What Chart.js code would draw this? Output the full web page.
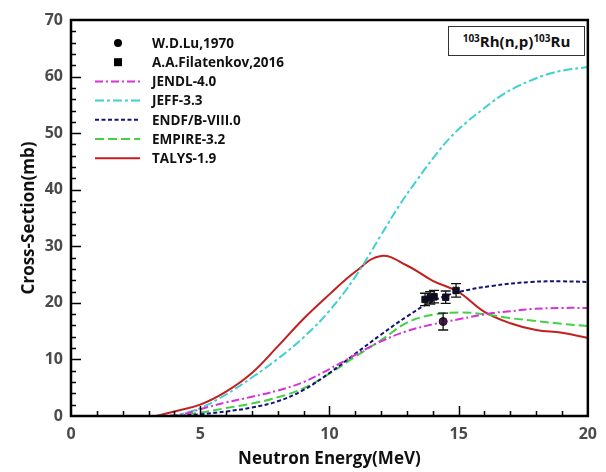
<!DOCTYPE html>
<html>
<head>
<meta charset="utf-8">
<script src="https://cdn.jsdelivr.net/npm/chart.js@4/dist/chart.umd.min.js"></script>
<style>
  html, body { margin: 0; padding: 0; background: #fff; }
  #wrap { position: relative; width: 606px; height: 472px; }
  #reaction {
    position: absolute; left: 448px; top: 26px; width: 137px; height: 30px;
    border: 1px solid #333; box-sizing: border-box; background: #fff;
    font: bold 15px 'Open Sans', sans-serif; color: #111;
    text-align: center; line-height: 29px; white-space: nowrap;
  }
  #reaction sup { font-size: 10px; vertical-align: 5px; line-height: 0; }
</style>
</head>
<body>
<div id="wrap">
  <canvas id="xs-chart" width="606" height="472"></canvas>
  <div id="reaction"><sup>103</sup>Rh(n,p)<sup>103</sup>Ru</div>
</div>
<script>
// ===================================
// DATA
// ===================================
const luE = [14.4];
const luXs = [16.7];
const luErr = [1.5];

const filE = [13.7, 13.9, 14.05, 14.5, 14.9];
const filXs = [20.6, 20.9, 21.1, 21.0, 22.2];
const filErr = [1.1, 1.1, 1.1, 1.1, 1.2];

const jendlE = [3.8, 4.5, 5, 6, 7, 8, 9, 10, 11, 12, 13, 14, 15, 16.3, 17, 17.8, 19, 20];
const jendlXs = [0, 0.5, 1.2, 2.4, 3.4, 4.5, 6.0, 8.3, 10.8, 13.2, 15.0, 16.2, 17.1, 18.2, 18.5, 18.9, 19.1, 19.1];

const jeffE = [3.8, 4.3, 5, 6, 7, 8, 9, 10, 11, 12, 12.73, 13.37, 14, 14.65, 15.3, 15.93, 16.57, 17.2, 17.84, 18.5, 19.1, 20];
const jeffXs = [0, 0.35, 1.4, 3.8, 6.8, 10.1, 13.9, 18.6, 24.6, 32.0, 37.4, 41.6, 45.5, 49.1, 51.9, 54.2, 56.4, 58.1, 59.4, 60.5, 61.1, 61.7];

const endfE = [4, 5, 6, 7, 8, 9, 10, 11, 12, 13, 14, 15, 16.3, 17.8, 19, 20];
const endfXs = [0, 0.3, 0.8, 1.5, 2.6, 4.6, 7.6, 11.0, 14.4, 17.6, 20.3, 21.9, 23.0, 23.7, 23.8, 23.7];

const empireE = [4, 5, 6, 7, 8, 9, 10, 11, 12, 13, 14, 15, 16, 17, 18, 19, 20];
const empireXs = [0, 0.6, 1.4, 2.2, 3.3, 4.9, 7.5, 10.5, 13.4, 16.5, 17.9, 18.3, 18.0, 17.3, 16.8, 16.3, 15.9];

const talysE = [3.3, 4, 5, 6, 7, 8, 9, 10, 11, 12, 13, 14, 15, 16, 17, 18, 19, 20];
const talysXs = [0, 0.8, 2.0, 4.3, 7.6, 12.3, 17.2, 21.5, 25.5, 28.3, 26.6, 23.9, 21.9, 18.4, 16.4, 15.2, 14.7, 13.8];

const xTicks = [0, 5, 10, 15, 20];
const yTicks = [0, 10, 20, 30, 40, 50, 60, 70];

const toPoints = (xs, ys) => xs.map((x, i) => ({ x: x, y: ys[i] }));

// ===================================
// PLUGINS
// ===================================
const frameTicks = {
    id: 'frameTicks',
    afterDraw(chart) {
        const ctx = chart.ctx;
        const a = chart.chartArea;
        const sx = chart.scales.x;
        const sy = chart.scales.y;
        ctx.save();
        ctx.strokeStyle = '#000';
        ctx.lineWidth = 1.5;
        // minor / major ticks pointing inward
        for (let v = sx.min + 1; v < sx.max; v += 1) {
            const px = Math.round(sx.getPixelForValue(v)) + 0.5;
            const len = v % 5 === 0 ? 10 : 5;
            ctx.beginPath();
            ctx.moveTo(px, a.bottom);
            ctx.lineTo(px, a.bottom - len);
            ctx.stroke();
        }
        for (let v = sy.min + 2; v < sy.max; v += 2) {
            const py = Math.round(sy.getPixelForValue(v)) + 0.5;
            const len = v % 10 === 0 ? 10 : 5;
            ctx.beginPath();
            ctx.moveTo(a.left, py);
            ctx.lineTo(a.left + len, py);
            ctx.stroke();
        }
        ctx.lineWidth = 2.5;
        ctx.strokeRect(a.left, a.top, a.right - a.left, a.bottom - a.top);
        ctx.restore();
    }
};

const errorBars = {
    id: 'errorBars',
    afterDatasetsDraw(chart) {
        const ctx = chart.ctx;
        const sx = chart.scales.x;
        const sy = chart.scales.y;
        ctx.save();
        ctx.strokeStyle = '#111';
        ctx.lineWidth = 1.3;
        chart.data.datasets.forEach(ds => {
            if (!ds.errors) return;
            ds.data.forEach((p, i) => {
                const px = sx.getPixelForValue(p.x);
                const top = sy.getPixelForValue(p.y + ds.errors[i]);
                const bot = sy.getPixelForValue(p.y - ds.errors[i]);
                ctx.beginPath();
                ctx.moveTo(px, top); ctx.lineTo(px, bot);
                ctx.moveTo(px - 5, top); ctx.lineTo(px + 5, top);
                ctx.moveTo(px - 5, bot); ctx.lineTo(px + 5, bot);
                ctx.stroke();
            });
        });
        ctx.restore();
    }
};

const insideLegend = {
    id: 'insideLegend',
    afterDraw(chart) {
        const ctx = chart.ctx;
        ctx.save();
        ctx.font = "bold 13.5px 'Open Sans', sans-serif";
        ctx.textBaseline = 'middle';
        ctx.fillStyle = '#111';
        chart.data.datasets.forEach((ds, i) => {
            const y = 43 + i * 19.2;
            if (ds.showLine) {
                ctx.strokeStyle = ds.borderColor;
                ctx.lineWidth = ds.borderWidth;
                ctx.setLineDash(ds.borderDash || []);
                ctx.beginPath();
                ctx.moveTo(95, y);
                ctx.lineTo(140, y);
                ctx.stroke();
                ctx.setLineDash([]);
            } else {
                ctx.fillStyle = '#000';
                if (ds.pointStyle === 'rect') {
                    ctx.fillRect(114, y - 4, 8, 8);
                } else {
                    ctx.beginPath();
                    ctx.arc(118, y, 4, 0, Math.PI * 2);
                    ctx.fill();
                }
                ctx.fillStyle = '#111';
            }
            ctx.fillText(ds.label, 152, y + 1);
        });
        ctx.restore();
    }
};

// ===================================
// CHART
// ===================================
const lineSet = (label, xs, ys, color, dash) => ({
    label: label,
    data: toPoints(xs, ys),
    showLine: true,
    borderColor: color,
    borderWidth: 2,
    borderDash: dash,
    pointRadius: 0,
    tension: 0.4,
    fill: false
});

const tickFont = { family: "'Open Sans', sans-serif", size: 16, weight: 'bold' };
const titleFont = { family: "'Open Sans', sans-serif", size: 17, weight: 'bold' };

new Chart(document.getElementById('xs-chart'), {
    type: 'scatter',
    data: {
        datasets: [
            {
                label: 'W.D.Lu,1970',
                data: toPoints(luE, luXs),
                errors: luErr,
                showLine: false,
                pointStyle: 'circle',
                pointRadius: 4,
                backgroundColor: '#4a1a55',
                borderColor: '#111',
                borderWidth: 1
            },
            {
                label: 'A.A.Filatenkov,2016',
                data: toPoints(filE, filXs),
                errors: filErr,
                showLine: false,
                pointStyle: 'rect',
                pointRadius: 4.5,
                backgroundColor: '#0a0a30',
                borderColor: '#111',
                borderWidth: 1
            },
            lineSet('JENDL-4.0', jendlE, jendlXs, '#d633d6', [8, 3, 2, 3]),
            lineSet('JEFF-3.3', jeffE, jeffXs, '#3fd0d0', [9, 3, 3, 3]),
            lineSet('ENDF/B-VIII.0', endfE, endfXs, '#12127a', [4, 2.5]),
            lineSet('EMPIRE-3.2', empireE, empireXs, '#44d044', [9, 4]),
            lineSet('TALYS-1.9', talysE, talysXs, '#c41e1e', [])
        ]
    },
    options: {
        responsive: false,
        animation: false,
        layout: { padding: { top: 20, right: 14, left: 0, bottom: 0 } },
        plugins: {
            legend: { display: false },
            tooltip: { enabled: false }
        },
        scales: {
            x: {
                type: 'linear',
                min: 0,
                max: 20,
                afterFit: s => { s.height = 56; },
                afterBuildTicks: s => { s.ticks = xTicks.map(v => ({ value: v })); },
                grid: { display: false, drawTicks: false },
                border: { display: false },
                ticks: { color: '#4a4a4a', font: tickFont, padding: 9, maxRotation: 0 },
                title: {
                    display: true,
                    text: 'Neutron Energy(MeV)',
                    color: '#111',
                    font: titleFont,
                    padding: { top: 0, bottom: 3 }
                }
            },
            y: {
                type: 'linear',
                min: 0,
                max: 70,
                afterFit: s => { s.width = 71; },
                afterBuildTicks: s => { s.ticks = yTicks.map(v => ({ value: v })); },
                grid: { display: false, drawTicks: false },
                border: { display: false },
                ticks: { color: '#4a4a4a', font: tickFont, padding: 8 },
                title: {
                    display: true,
                    text: 'Cross-Section(mb)',
                    color: '#111',
                    font: titleFont,
                    padding: { top: 19, bottom: 0 }
                }
            }
        }
    },
    plugins: [frameTicks, errorBars, insideLegend]
});
</script>
</body>
</html>
